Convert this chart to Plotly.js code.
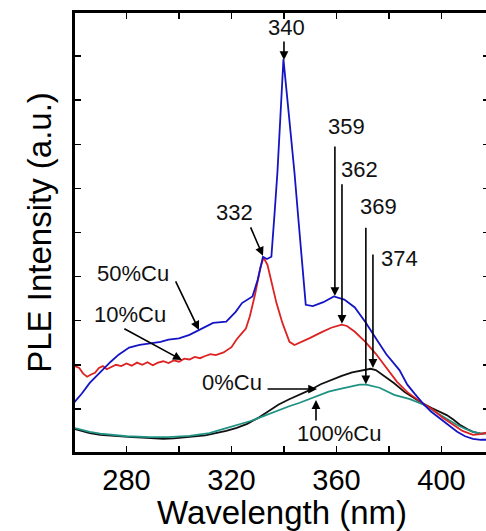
<!DOCTYPE html>
<html>
<head>
<meta charset="utf-8">
<script src="https://cdn.plot.ly/plotly-3.0.1.min.js"></script>
<style>
html, body { margin: 0; padding: 0; overflow: hidden; background: #fff; }
#wrap { position: relative; width: 500px; height: 531px; }
#chart { width: 500px; height: 531px; }
#frame { position: absolute; left: 72px; top: 10px; width: 420px; height: 444px;
         border-left: 2px solid #000; border-top: 2px solid #000; box-sizing: border-box; pointer-events: none; }
</style>
</head>
<body>
<div id="wrap">
<div id="chart"></div>
<div id="frame"></div>
</div>
<script>
// Wavelength (nm) and PLE intensity (a.u.)
const wl50 = [260, 263, 266, 270, 274, 277, 281, 285, 289, 293, 296, 300, 304, 308, 313, 318, 321.6, 324, 326, 328, 330, 332, 333.5, 335.2, 336.5, 337.5, 338.7, 339.8, 341, 342.5, 344, 345.5, 346.7, 347.5, 348.3, 351, 355, 359, 363, 367, 371, 375, 379, 384, 387, 390, 393, 396, 399.4, 403, 406, 409, 412, 415, 418.5];
const ple50 = [1.14, 1.35, 1.59, 1.84, 2.07, 2.23, 2.39, 2.45, 2.48, 2.52, 2.57, 2.60, 2.68, 2.80, 2.95, 2.98, 3.20, 3.40, 3.48, 3.55, 3.93, 4.45, 4.40, 4.45, 5.50, 6.36, 7.70, 8.93, 8.20, 7.30, 6.36, 5.30, 4.45, 3.80, 3.36, 3.33, 3.42, 3.55, 3.48, 3.30, 2.97, 2.60, 2.24, 1.88, 1.55, 1.33, 1.12, 0.94, 0.79, 0.62, 0.48, 0.38, 0.32, 0.30, 0.30];

const wl10 = [260, 262, 263.5, 265, 266.5, 268, 269.5, 271, 272.5, 274, 276, 278, 280, 282, 284, 286, 288, 290, 292, 294, 296, 298, 300, 302, 304, 306, 308, 310, 312, 314, 317, 320, 322, 324, 325.5, 327, 329, 331, 332.2, 333.7, 335.2, 337.1, 339.4, 342.1, 344, 346, 350, 354, 358, 362, 364, 367, 371, 375, 379, 383, 387, 390, 393, 396.8, 400.5, 404.5, 408, 412, 415, 418.5];
const ple10 = [1.98, 1.93, 1.80, 1.73, 1.78, 1.82, 1.93, 1.97, 1.90, 1.95, 2.00, 1.97, 2.03, 1.98, 2.05, 2.00, 2.06, 1.99, 2.05, 2.08, 2.04, 2.10, 2.07, 2.14, 2.12, 2.18, 2.15, 2.20, 2.24, 2.22, 2.28, 2.40, 2.58, 2.72, 2.82, 3.10, 3.60, 4.20, 4.43, 4.27, 3.86, 3.41, 2.95, 2.52, 2.45, 2.50, 2.61, 2.73, 2.84, 2.91, 2.88, 2.75, 2.52, 2.25, 1.93, 1.62, 1.38, 1.24, 1.12, 0.98, 0.80, 0.64, 0.50, 0.41, 0.43, 0.48];

const wl0 = [260, 263, 266, 270, 274, 278, 282, 286, 290, 294, 298, 302, 306, 310, 314, 318, 322, 326, 330, 334, 338, 342, 346, 350, 354, 358, 362, 366, 370, 373, 375, 378, 382, 386, 390, 393, 396.3, 399, 402, 404.5, 407, 410, 412, 415, 418.5];
const ple0 = [0.55, 0.50, 0.45, 0.41, 0.39, 0.37, 0.36, 0.35, 0.34, 0.32, 0.33, 0.35, 0.37, 0.40, 0.45, 0.50, 0.57, 0.66, 0.79, 0.95, 1.10, 1.22, 1.32, 1.43, 1.56, 1.66, 1.75, 1.83, 1.87, 1.91, 1.88, 1.75, 1.58, 1.38, 1.22, 1.12, 1.02, 0.95, 0.86, 0.76, 0.64, 0.54, 0.48, 0.44, 0.45];

const wl100 = [260, 263, 266, 270, 274, 280, 289, 296, 304, 311.6, 315.4, 319, 323, 327, 330.7, 334.5, 338.3, 342, 346, 350, 353.5, 357, 361, 365, 368.8, 371.4, 374, 376.4, 382, 388, 393, 399.4, 405.8, 409, 412, 415, 418.5];
const ple100 = [0.57, 0.52, 0.48, 0.44, 0.41, 0.38, 0.36, 0.36, 0.39, 0.45, 0.52, 0.58, 0.64, 0.72, 0.80, 0.89, 0.98, 1.06, 1.14, 1.23, 1.32, 1.39, 1.45, 1.50, 1.55, 1.55, 1.52, 1.48, 1.32, 1.22, 1.10, 0.86, 0.64, 0.55, 0.48, 0.44, 0.45];

const xTickVals = [280, 300, 320, 340, 360, 380, 400];
const xTickText = ['280', '', '320', '', '360', '', '400'];

const FONT = 'Arial, "Liberation Sans", sans-serif';

function mkLine(x, y, color, name) {
  return { x: x, y: y, mode: 'lines', name: name, line: { color: color, width: 1.8 }, hoverinfo: 'skip' };
}

const traces = [
  mkLine(wl0, ple0, '#111111', '0%Cu'),
  mkLine(wl100, ple100, '#1f9284', '100%Cu'),
  mkLine(wl10, ple10, '#dd2222', '10%Cu'),
  mkLine(wl50, ple50, '#1414c4', '50%Cu')
];

function label(text, x, y) {
  return { text: text, x: x, y: y, xref: 'x', yref: 'y', showarrow: false,
           xanchor: 'center', yanchor: 'middle', font: { family: FONT, size: 22, color: '#111' } };
}
function arrow(x, y, ax, ay) {
  return { text: '', x: x, y: y, xref: 'x', yref: 'y', ax: ax, ay: ay, showarrow: true,
           arrowhead: 2, arrowsize: 1.1, arrowwidth: 1.6, arrowcolor: '#000', standoff: 0 };
}

const annotations = [
  label('340', 341.1, 9.64), arrow(340.0, 8.91, 0, -20),
  label('332', 321.3, 5.46), arrow(332.0, 4.47, -13, -30),
  label('359', 364.0, 7.41), arrow(359.4, 3.56, 0, -151),
  label('362', 368.6, 6.44), arrow(362.1, 2.93, 0, -141),
  label('369', 376.2, 5.60), arrow(371.2, 1.56, 0, -158),
  label('374', 384.2, 4.42), arrow(373.9, 1.93, 0, -115),
  label('50%Cu', 282.5, 4.08), arrow(307.6, 2.79, -24, -50),
  label('10%Cu', 281.3, 3.15), arrow(301.1, 2.11, -59, -32),
  label('0%Cu', 320.2, 1.61), arrow(352.6, 1.45, -51, 0),
  label('100%Cu', 361.0, 0.45), arrow(352.2, 1.20, 0, 22)
];

const layout = {
  width: 500, height: 531,
  margin: { l: 74, r: 10, t: 12, b: 78 },
  paper_bgcolor: '#fff', plot_bgcolor: '#fff',
  showlegend: false,
  font: { family: FONT, color: '#000' },
  xaxis: {
    range: [260, 418.5], showgrid: false, zeroline: false,
    showline: true, linecolor: '#000', linewidth: 2, mirror: 'ticks',
    ticks: 'inside', ticklen: 7, tickwidth: 1.5, tickcolor: '#000',
    tickmode: 'array', tickvals: xTickVals, ticktext: xTickText,
    tickfont: { family: FONT, size: 29, color: '#000' },
    title: { text: 'Wavelength (nm)', font: { family: FONT, size: 33, color: '#000' }, standoff: 4 }
  },
  yaxis: {
    range: [0, 10], showgrid: false, zeroline: false,
    showline: true, linecolor: '#000', linewidth: 2, mirror: 'ticks',
    ticks: 'inside', ticklen: 7, tickwidth: 1.5, tickcolor: '#000',
    dtick: 1, tick0: 0, showticklabels: false,
    title: { text: 'PLE Intensity (a.u.)', font: { family: FONT, size: 33, color: '#000' }, standoff: 10 }
  },
  shapes: [
    { type: 'rect', xref: 'paper', yref: 'paper', x0: 0, x1: 1, y0: 0, y1: 1,
      line: { color: '#000', width: 2 } }
  ],
  annotations: annotations
};

Plotly.newPlot('chart', traces, layout, { displayModeBar: false, staticPlot: true });
</script>
</body>
</html>
